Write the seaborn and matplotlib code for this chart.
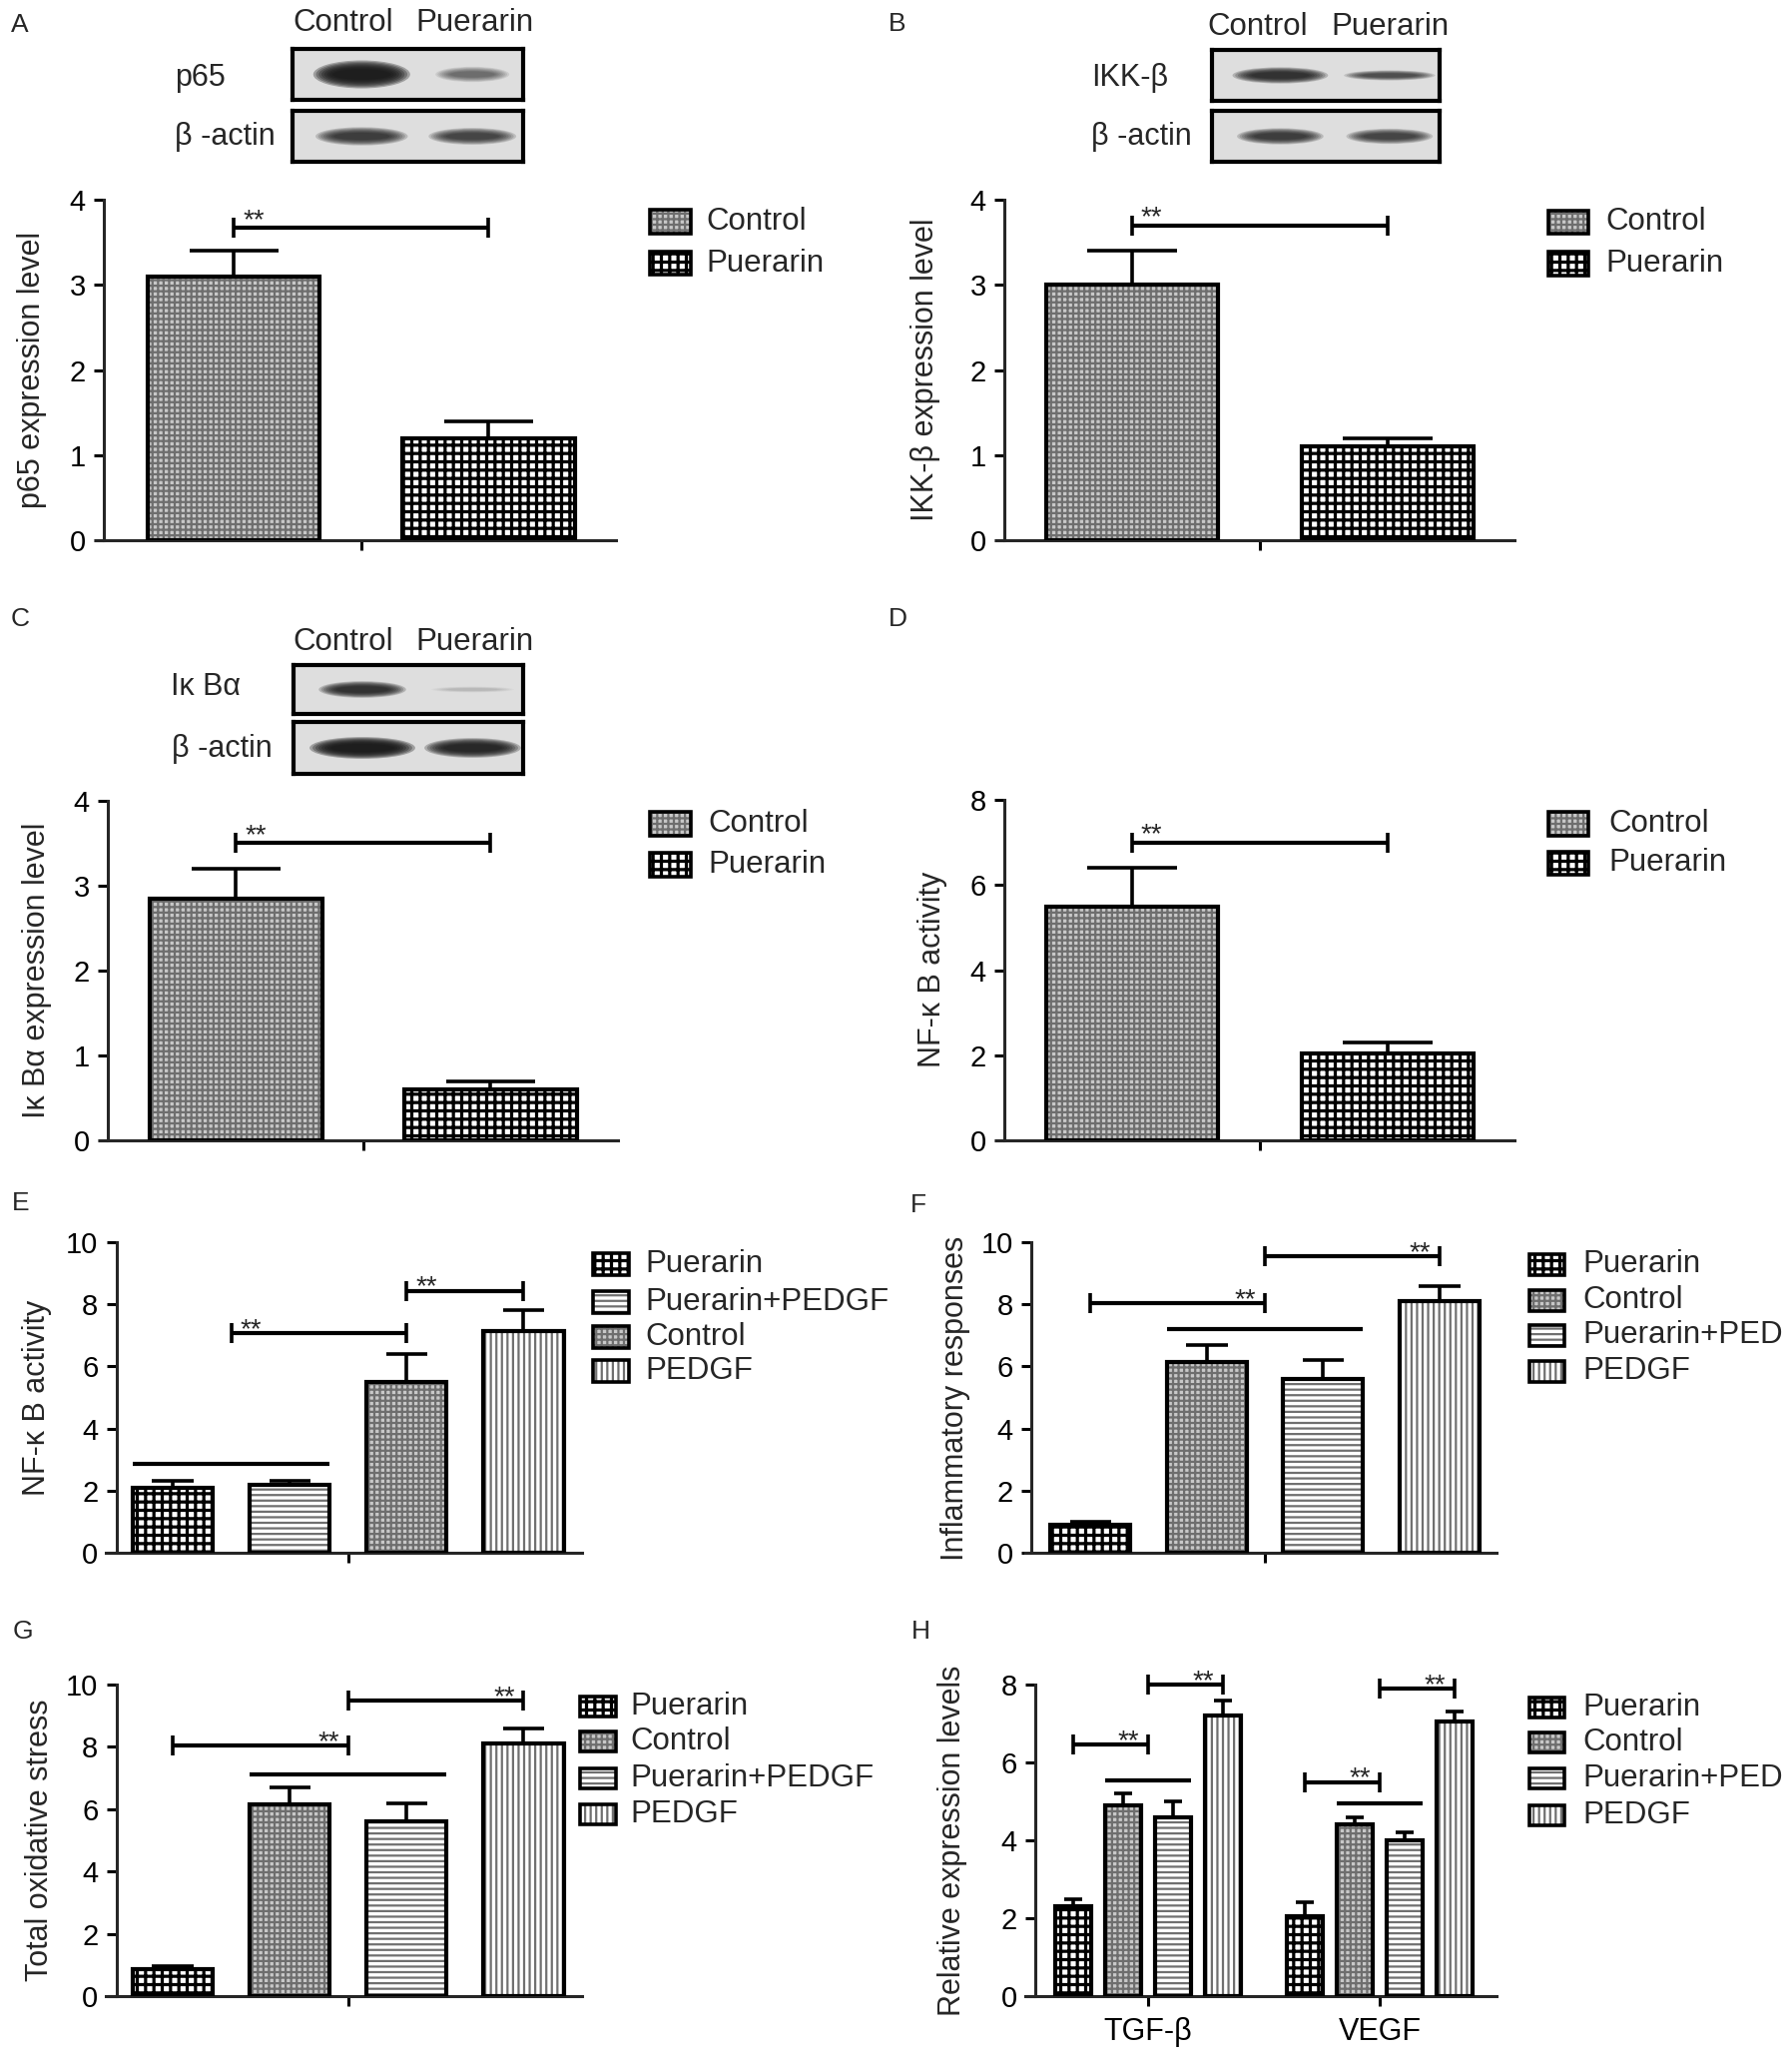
import numpy as np
import pandas as pd
import matplotlib
matplotlib.use('Agg')
import matplotlib.pyplot as plt
from matplotlib.patches import Rectangle, Ellipse
import seaborn as sns

W, H = 1795, 2068

# groups
two_groups = ['Control', 'Puerarin']
groups_e = ['Puerarin', 'Puerarin+PEDGF', 'Control', 'PEDGF']
groups_fgh = ['Puerarin', 'Control', 'Puerarin+PEDGF', 'PEDGF']
genes = ['TGF-β', 'VEGF']

# values (mean, SEM)
p65_mean = [3.1, 1.2]
p65_sem = [0.3, 0.2]
ikkb_mean = [3.0, 1.1]
ikkb_sem = [0.4, 0.1]
ikba_mean = [2.85, 0.6]
ikba_sem = [0.35, 0.1]
nfkb_mean = [5.5, 2.05]
nfkb_sem = [0.9, 0.25]
nfkb_pedgf_mean = [2.1, 2.2, 5.5, 7.15]
nfkb_pedgf_sem = [0.2, 0.13, 0.9, 0.65]
inflam_mean = [0.9, 6.15, 5.6, 8.1]
inflam_sem = [0.1, 0.55, 0.6, 0.5]
oxid_mean = [0.85, 6.15, 5.6, 8.1]
oxid_sem = [0.1, 0.55, 0.6, 0.5]
tgfb_mean = [2.3, 4.9, 4.6, 7.2]
tgfb_sem = [0.2, 0.3, 0.4, 0.4]
vegf_mean = [2.05, 4.4, 4.0, 7.05]
vegf_sem = [0.35, 0.2, 0.2, 0.25]

# western blot band strength (Control lane, Puerarin lane)
p65_band = [0.95, 0.55]
actin_band_a = [0.8, 0.75]
ikkb_band = [0.85, 0.7]
actin_band_b = [0.8, 0.75]
ikba_band = [0.85, 0.18]
actin_band_c = [0.95, 0.9]

sns.set_style('ticks')
plt.rcParams['font.family'] = ['Liberation Sans', 'DejaVu Sans']
plt.rcParams['hatch.linewidth'] = 1.6
plt.rcParams['axes.linewidth'] = 2.2

STYLE = {
    'Control': dict(face='#c8c8c8', hatch='+++', hc='#6e6e6e', hlw=1.6),
    'Puerarin': dict(face='white', hatch='++', hc='black', hlw=2.3),
    'Puerarin+PEDGF': dict(face='white', hatch='---', hc='#707070', hlw=1.6),
    'PEDGF': dict(face='white', hatch='|||', hc='#707070', hlw=1.6),
}


def fig_box(x0, x1, y0, y1):
    return [x0 / W, 1 - y1 / H, (x1 - x0) / W, (y1 - y0) / H]


def make_axes(fig, x0, x1, y0, y1):
    return fig.add_axes(fig_box(x0, x1, y0, y1))


def apply_hatch(p, g):
    st = STYLE[g]
    p.set_hatch(st['hatch'])
    p.set_edgecolor(st['hc'])
    p.set_linewidth(0)
    if hasattr(p, 'set_hatch_linewidth'):
        p.set_hatch_linewidth(st['hlw'])


def style_axes(ax, x0, x1, yaxis_x, xlim, ylim, yticks, ylabel, lab_xy, lab_fs=22):
    ax.set_xlim(xlim)
    ax.set_ylim(ylim)
    ax.set_yticks(yticks)
    ax.set_xlabel('')
    ax.set_facecolor('none')
    for s in ['top', 'right']:
        ax.spines[s].set_visible(False)
    ax.spines['left'].set_position(('axes', (yaxis_x - x0) / (x1 - x0)))
    ax.tick_params(direction='out', length=7, width=2.2, labelsize=21, pad=6,
                   colors='black')
    ax.set_ylabel(ylabel, fontsize=lab_fs, va='center')
    ax.yaxis.set_label_coords(lab_xy[0] / W, 1 - lab_xy[1] / H,
                              transform=ax.figure.transFigure)


def draw_bars(ax, cats, groups, means, sems, hue_order, width, gap):
    df = pd.DataFrame({'cat': cats, 'group': groups, 'mean': means, 'sem': sems})
    sns.barplot(data=df, x='cat', y='mean', hue='group', hue_order=hue_order,
                palette={g: STYLE[g]['face'] for g in hue_order},
                width=width, gap=gap, errorbar=None, legend=False, ax=ax)
    cat_order = list(dict.fromkeys(cats))
    conts = sorted(ax.containers, key=lambda c: min(p.get_x() for p in c.patches))
    geo = {}
    for cont, g in zip(conts, hue_order):
        for bar, c in zip(sorted(cont.patches, key=lambda p: p.get_x()), cat_order):
            apply_hatch(bar, g)
            x, w, h = bar.get_x(), bar.get_width(), bar.get_height()
            ax.add_patch(Rectangle((x, 0), w, h, fill=False, ec='black', lw=3,
                                   zorder=3))
            err = df.loc[(df['cat'] == c) & (df['group'] == g), 'sem'].iloc[0]
            xc = x + w / 2
            ax.vlines(xc, h, h + err, color='black', lw=2.6, zorder=3)
            ax.hlines(h + err, xc - 0.26 * w, xc + 0.26 * w, color='black',
                      lw=2.6, zorder=3)
            geo[(c, g)] = (xc, w)
    return geo


def bracket(ax, geo, cat, left, right, y, side, dy=0):
    x1 = np.mean([geo[(cat, g)][0] for g in left])
    x2 = np.mean([geo[(cat, g)][0] for g in right])
    ax.plot([x1, x2], [y, y], color='black', lw=3, marker='|', markersize=15,
            mew=2.6, clip_on=False, zorder=4, solid_capstyle='butt')
    if side == 'left':
        ax.annotate('**', xy=(x1, y), xytext=(14, dy), textcoords='offset points',
                    ha='center', va='baseline', fontsize=20)
    else:
        ax.annotate('**', xy=(x2, y), xytext=(-14, dy), textcoords='offset points',
                    ha='center', va='baseline', fontsize=20)


def ns_line(ax, geo, cat, g1, g2, y):
    xa = geo[(cat, g1)][0] - geo[(cat, g1)][1] / 2
    xb = geo[(cat, g2)][0] + geo[(cat, g2)][1] / 2
    ax.plot([xa, xb], [y, y], color='black', lw=3, solid_capstyle='butt',
            clip_on=False, zorder=4)


def legend(fig, x0, x1, ycs, ph, labels, groups, tx, fs=22.5):
    for yc, lab, g in zip(ycs, labels, groups):
        xy = (x0 / W, 1 - (yc + ph / 2) / H)
        r = Rectangle(xy, (x1 - x0) / W, ph / H, transform=fig.transFigure,
                      facecolor=STYLE[g]['face'])
        apply_hatch(r, g)
        fig.add_artist(r)
        fig.add_artist(Rectangle(xy, (x1 - x0) / W, ph / H, transform=fig.transFigure,
                                 fill=False, ec='black', lw=2.6))
        fig.text(tx / W, 1 - yc / H, lab, ha='left', va='center', fontsize=fs)


def blot(fig, x0, x1, y0, y1, strengths, widths, heights):
    ax = fig.add_axes(fig_box(x0, x1, y0, y1))
    ax.set_xlim(0, 1)
    ax.set_ylim(0, 1)
    ax.set_facecolor('#dedede')
    ax.set_xticks([])
    ax.set_yticks([])
    for s in ax.spines.values():
        s.set_visible(True)
        s.set_linewidth(3)
        s.set_color('black')
    n = 8
    for cx, s, w, h in zip([0.30, 0.78], strengths, widths, heights):
        a = 1 - (1 - s) ** (1 / n)
        for k in range(n):
            ax.add_patch(Ellipse((cx, 0.5), w * (1 - 0.45 * k / n),
                                 h * (1 - 0.7 * k / n), color='#161616',
                                 alpha=a, lw=0))


def text(fig, x, y, s, fs=22.5, ha='left'):
    fig.text(x / W, 1 - y / H, s, ha=ha, va='center', fontsize=fs)


fig = plt.figure(figsize=(W / 100, H / 100), dpi=100)

# ---------------- A ----------------
text(fig, 11, 25, 'A', fs=19)
text(fig, 344, 23, 'Control', ha='center')
text(fig, 475, 23, 'Puerarin', ha='center')
text(fig, 175, 78, 'p65', fs=22)
text(fig, 175, 137, 'β -actin', fs=22)
blot(fig, 293, 524, 49, 100, p65_band, [0.42, 0.32], [0.55, 0.3])
blot(fig, 293, 524, 111, 162, actin_band_a, [0.40, 0.38], [0.36, 0.33])
ax = make_axes(fig, 96, 617, 200, 541)
geo = draw_bars(ax, [''] * 2, two_groups, p65_mean, p65_sem, two_groups, 0.8, 0.325)
style_axes(ax, 96, 617, 104, (-0.417, 0.40), (0, 4), [0, 1, 2, 3, 4],
           'p65 expression level', (32, 370))
ax.set_xticks([0])
ax.set_xticklabels([''])
bracket(ax, geo, '', ['Control'], ['Puerarin'], 3.67, 'left')
legend(fig, 651, 692, [222, 263.5], 23, two_groups, two_groups, 707)

# ---------------- B ----------------
text(fig, 890, 24, 'B', fs=19)
text(fig, 1260, 27, 'Control', ha='center')
text(fig, 1392, 27, 'Puerarin', ha='center')
text(fig, 1093, 78, 'IKK-β', fs=22)
text(fig, 1093, 137, 'β -actin', fs=22)
blot(fig, 1214, 1442, 50, 101, ikkb_band, [0.42, 0.40], [0.32, 0.2])
blot(fig, 1214, 1442, 111, 162, actin_band_b, [0.38, 0.38], [0.32, 0.3])
ax = make_axes(fig, 998, 1517, 200, 541)
geo = draw_bars(ax, [''] * 2, two_groups, ikkb_mean, ikkb_sem, two_groups, 0.8, 0.325)
style_axes(ax, 998, 1517, 1006, (-0.413, 0.399), (0, 4), [0, 1, 2, 3, 4],
           'IKK-β expression level', (927, 370))
ax.set_xticks([0])
ax.set_xticklabels([''])
bracket(ax, geo, '', ['Control'], ['Puerarin'], 3.7, 'left')
legend(fig, 1551, 1591, [222.5, 264], 23, two_groups, two_groups, 1608)

# ---------------- C ----------------
text(fig, 11, 620, 'C', fs=19)
text(fig, 344, 643, 'Control', ha='center')
text(fig, 475, 643, 'Puerarin', ha='center')
text(fig, 171, 688, 'Iκ Bα', fs=22)
text(fig, 172, 750, 'β -actin', fs=22)
blot(fig, 294, 524, 666, 715, ikba_band, [0.38, 0.36], [0.34, 0.12])
blot(fig, 294, 524, 723, 775, actin_band_c, [0.46, 0.42], [0.42, 0.38])
ax = make_axes(fig, 100, 619, 802, 1142)
geo = draw_bars(ax, [''] * 2, two_groups, ikba_mean, ikba_sem, two_groups, 0.8, 0.325)
style_axes(ax, 100, 619, 108, (-0.414, 0.40), (0, 4), [0, 1, 2, 3, 4],
           'Iκ Bα expression level', (37, 972))
ax.set_xticks([0])
ax.set_xticklabels([''])
bracket(ax, geo, '', ['Control'], ['Puerarin'], 3.5, 'left')
legend(fig, 651, 692, [825, 866], 23, two_groups, two_groups, 709)

# ---------------- D ----------------
text(fig, 890, 620, 'D', fs=19)
ax = make_axes(fig, 998, 1517, 801, 1142)
geo = draw_bars(ax, [''] * 2, two_groups, nfkb_mean, nfkb_sem, two_groups, 0.8, 0.325)
style_axes(ax, 998, 1517, 1006, (-0.413, 0.399), (0, 8), [0, 2, 4, 6, 8],
           'NF-κ B activity', (934, 971))
ax.set_xticks([0])
ax.set_xticklabels([''])
bracket(ax, geo, '', ['Control'], ['Puerarin'], 7.0, 'left')
legend(fig, 1551, 1591, [825, 864], 23, two_groups, two_groups, 1611)

# ---------------- E ----------------
text(fig, 12, 1205, 'E', fs=19)
ax = make_axes(fig, 106, 583, 1244, 1555)
geo = draw_bars(ax, [''] * 4, groups_e, nfkb_pedgf_mean, nfkb_pedgf_sem, groups_e,
                0.8, 0.316)
style_axes(ax, 106, 583, 116.5, (-0.415, 0.40), (0, 10), [0, 2, 4, 6, 8, 10],
           'NF-κ B activity', (37, 1400))
ax.set_xticks([0])
ax.set_xticklabels([''])
ns_line(ax, geo, '', 'Puerarin', 'Puerarin+PEDGF', 2.87)
bracket(ax, geo, '', ['Puerarin', 'Puerarin+PEDGF'], ['Control'], 7.07, 'left', -3)
bracket(ax, geo, '', ['Control'], ['PEDGF'], 8.44, 'left', -3)
legend(fig, 594, 630, [1266, 1304, 1339, 1373], 22, groups_e, groups_e, 646)

# ---------------- F ----------------
text(fig, 912, 1207, 'F', fs=19)
ax = make_axes(fig, 1027, 1499, 1244, 1555)
geo = draw_bars(ax, [''] * 4, groups_fgh, inflam_mean, inflam_sem, groups_fgh,
                0.8, 0.316)
style_axes(ax, 1027, 1499, 1033, (-0.412, 0.398), (0, 10), [0, 2, 4, 6, 8, 10],
           'Inflammatory responses', (957, 1400))
ax.set_xticks([0])
ax.set_xticklabels([''])
ns_line(ax, geo, '', 'Control', 'Puerarin+PEDGF', 7.19)
bracket(ax, geo, '', ['Puerarin'], ['Control', 'Puerarin+PEDGF'], 8.05, 'right', -3)
bracket(ax, geo, '', ['Control', 'Puerarin+PEDGF'], ['PEDGF'], 9.55, 'right', -3)
legend(fig, 1532, 1567, [1266, 1302, 1337, 1373], 21,
       ['Puerarin', 'Control', 'Puerarin+PED', 'PEDGF'], groups_fgh, 1585)

# ---------------- G ----------------
text(fig, 13, 1634, 'G', fs=19)
ax = make_axes(fig, 106, 583, 1687, 1999)
geo = draw_bars(ax, [''] * 4, groups_fgh, oxid_mean, oxid_sem, groups_fgh, 0.8, 0.316)
style_axes(ax, 106, 583, 116.5, (-0.415, 0.40), (0, 10), [0, 2, 4, 6, 8, 10],
           'Total oxidative stress', (40, 1843))
ax.set_xticks([0])
ax.set_xticklabels([''])
ns_line(ax, geo, '', 'Control', 'Puerarin+PEDGF', 7.1)
bracket(ax, geo, '', ['Puerarin'], ['Control', 'Puerarin+PEDGF'], 8.05, 'right', -3)
bracket(ax, geo, '', ['Control', 'Puerarin+PEDGF'], ['PEDGF'], 9.5, 'right', -3)
legend(fig, 581, 617, [1709, 1744, 1781, 1817], 20, groups_fgh, groups_fgh, 631)

# ---------------- H ----------------
text(fig, 913, 1634, 'H', fs=19)
ax = make_axes(fig, 1027, 1499, 1687, 1999)
cats_h = [g for g in genes for _ in groups_fgh]
geo = draw_bars(ax, cats_h, groups_fgh * 2, tgfb_mean + vegf_mean,
                tgfb_sem + vegf_sem, groups_fgh, 0.862, 0.28)
style_axes(ax, 1027, 1499, 1037, (-0.53, 1.504), (0, 8), [0, 2, 4, 6, 8],
           'Relative expression levels', (954, 1843))
ax.tick_params(axis='x', labelsize=22, pad=8)
for cat, ns_y, b1, b2 in [('TGF-β', 5.55, 6.45, 8.0), ('VEGF', 4.95, 5.5, 7.9)]:
    ns_line(ax, geo, cat, 'Control', 'Puerarin+PEDGF', ns_y)
    bracket(ax, geo, cat, ['Puerarin'], ['Control', 'Puerarin+PEDGF'], b1, 'right', -3)
    bracket(ax, geo, cat, ['Control', 'Puerarin+PEDGF'], ['PEDGF'], b2, 'right', -3)
legend(fig, 1532, 1567, [1710, 1745, 1781, 1818], 20,
       ['Puerarin', 'Control', 'Puerarin+PED', 'PEDGF'], groups_fgh, 1585)

fig.savefig('out.png', dpi=100)
